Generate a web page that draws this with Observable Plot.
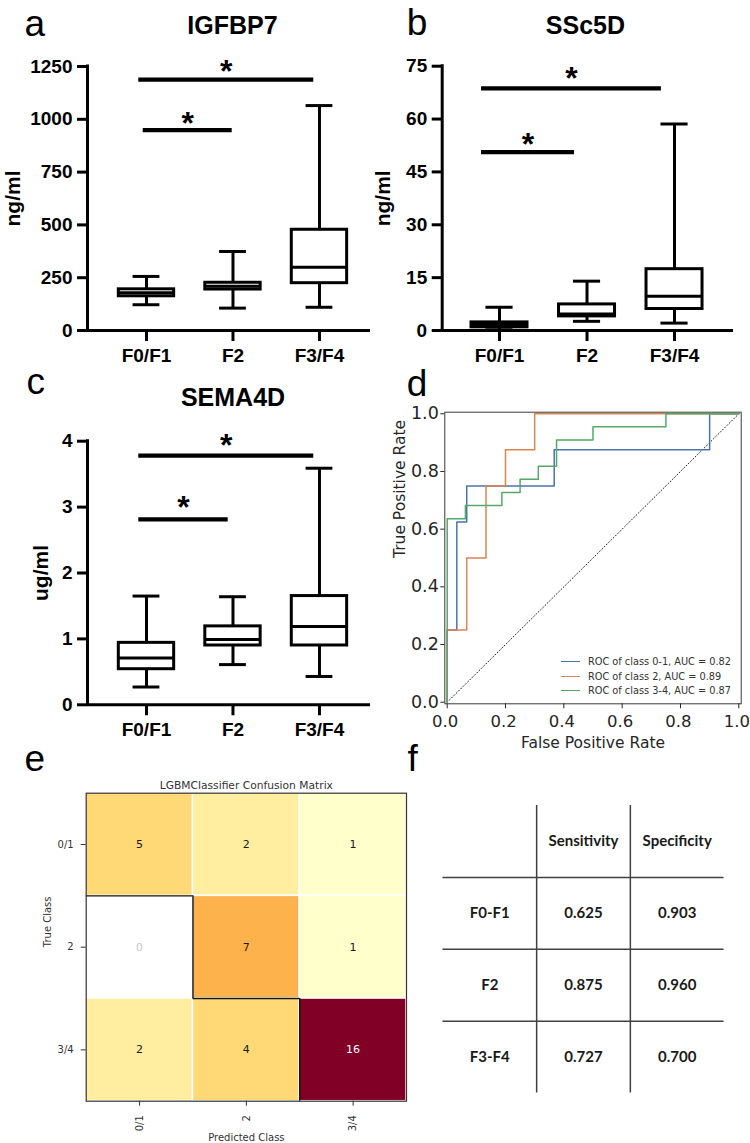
<!DOCTYPE html>
<html>
<head>
<meta charset="utf-8">
<script src="https://cdn.jsdelivr.net/npm/d3@7"></script>
<script src="https://cdn.jsdelivr.net/npm/@observablehq/plot@0.6"></script>
<style>
  html, body { margin: 0; padding: 0; background: #fff; }
  #page { position: relative; width: 750px; height: 1143px; overflow: hidden; background: #fff; }
  .panel { position: absolute; }
  .panel svg { background: none !important; overflow: visible; }
</style>
</head>
<body>
<div id="page"></div>
<script>
// ---------------- DATA ----------------
const groups = ["F0/F1", "F2", "F3/F4"];

// a – IGFBP7 (ng/ml): whisker low, Q1, median, Q3, whisker high
const igfbp7Low = [122, 106, 110];
const igfbp7Q1 = [162, 194, 224];
const igfbp7Median = [179, 210, 300];
const igfbp7Q3 = [195, 226, 477];
const igfbp7High = [256, 374, 1065];
const igfbp7Ticks = [0, 250, 500, 750, 1000, 1250];
// significance bars (x in group units, y in data units), star = star centre
const igfbp7Sig = [
  { from: 0.911, to: 2.934, y: 1188, star: 1256 },
  { from: 0.962, to: 1.991, y: 949, star: 1006 }
];

// b – SSc5D (ng/ml)
const ssc5dLow = [0.2, 2.6, 2.1];
const ssc5dQ1 = [0.9, 4.0, 6.1];
const ssc5dMedian = [1.7, 4.7, 9.7];
const ssc5dQ3 = [2.3, 7.4, 17.4];
const ssc5dHigh = [6.6, 14.0, 58.6];
const ssc5dTicks = [0, 15, 30, 45, 60, 75];
const ssc5dSig = [
  { from: 0.794, to: 2.85, y: 68.7, star: 73.2 },
  { from: 0.794, to: 1.857, y: 50.6, star: 54.4 }
];

// c – SEMA4D (ug/ml)
const sema4dLow = [0.27, 0.61, 0.43];
const sema4dQ1 = [0.54, 0.90, 0.90];
const sema4dMedian = [0.71, 0.99, 1.19];
const sema4dQ3 = [0.94, 1.19, 1.65];
const sema4dHigh = [1.65, 1.64, 3.59];
const sema4dTicks = [0, 1, 2, 3, 4];
const sema4dSig = [
  { from: 0.911, to: 2.934, y: 3.78, star: 4.03 },
  { from: 0.911, to: 1.945, y: 2.815, star: 3.085 }
];

// d – ROC curves
const rocLabels = ["ROC of class 0-1, AUC = 0.82", "ROC of class 2, AUC = 0.89", "ROC of class 3-4, AUC = 0.87"];
const rocFpr01 = [0, 0, 0.033, 0.033, 0.067, 0.067, 0.367, 0.367, 0.9, 0.9, 1];
const rocTpr01 = [0, 0.25, 0.25, 0.625, 0.625, 0.75, 0.75, 0.875, 0.875, 1, 1];
const rocFpr2 = [0, 0, 0.067, 0.067, 0.133, 0.133, 0.2, 0.2, 0.3, 0.3, 1];
const rocTpr2 = [0, 0.25, 0.25, 0.5, 0.5, 0.75, 0.75, 0.875, 0.875, 1, 1];
const rocFpr34 = [0, 0, 0.0625, 0.0625, 0.1875, 0.1875, 0.25, 0.25, 0.3125, 0.3125, 0.375, 0.375, 0.5, 0.5, 0.75, 0.75, 1];
const rocTpr34 = [0, 0.636, 0.636, 0.682, 0.682, 0.727, 0.727, 0.773, 0.773, 0.818, 0.818, 0.909, 0.909, 0.955, 0.955, 1, 1];
const chanceLine = [0, 1];
const rocTicks = [0, 0.2, 0.4, 0.6, 0.8, 1.0];

// e – confusion matrix
const classes = ["0/1", "2", "3/4"];
const confusion = [
  [5, 2, 1],
  [0, 7, 1],
  [2, 4, 16]
];

// f – table
const metricHeaders = ["Sensitivity", "Specificity"];
const stageLabels = ["F0-F1", "F2", "F3-F4"];
const sensitivity = [0.625, 0.875, 0.727];
const specificity = [0.903, 0.960, 0.700];

// ---------------- STYLE ----------------
const BOLD_FONT = "'Liberation Sans', Arial, sans-serif";
const MPL_FONT = "'DejaVu Sans', sans-serif";
const LETTER_FONT = "'Liberation Sans', Arial, sans-serif";
const TABLE_FONT = "Lato, sans-serif";
const rocColors = ["#4c72b0", "#dd8452", "#55a868"];
const page = document.getElementById("page");

function place(node, left, top) {
  const d = document.createElement("div");
  d.className = "panel";
  d.style.left = left + "px";
  d.style.top = top + "px";
  d.append(node);
  page.append(d);
}

function letterMark(letter, dx, dy) {
  return Plot.text([letter], {
    text: d => d, frameAnchor: "top-left", textAnchor: "start", lineAnchor: "bottom",
    dx, dy, fontSize: 37, fontFamily: LETTER_FONT, fontWeight: "normal", fill: "black"
  });
}

function boxPanel(cfg) {
  const rows = groups.map((g, i) => ({
    x: i + 1, low: cfg.low[i], q1: cfg.q1[i], med: cfg.med[i], q3: cfg.q3[i], high: cfg.high[i]
  }));
  const BOX = 0.32, CAP = 0.155, LW = 3;
  const yMax = cfg.ticks[cfg.ticks.length - 1];
  return Plot.plot({
    width: cfg.w, height: cfg.h,
    marginLeft: cfg.ml, marginRight: cfg.mr, marginTop: cfg.mt, marginBottom: cfg.mb,
    x: { type: "linear", domain: cfg.xDomain },
    y: { type: "linear", domain: [0, yMax] },
    style: { fontFamily: BOLD_FONT, background: "none", overflow: "visible", color: "#000" },
    marks: [
      Plot.ruleX(rows, { x: "x", y1: "q3", y2: "high", strokeWidth: LW }),
      Plot.ruleX(rows, { x: "x", y1: "low", y2: "q1", strokeWidth: LW }),
      Plot.ruleY(rows, { y: "high", x1: d => d.x - CAP, x2: d => d.x + CAP, strokeWidth: LW }),
      Plot.ruleY(rows, { y: "low", x1: d => d.x - CAP, x2: d => d.x + CAP, strokeWidth: LW }),
      Plot.rect(rows, { x1: d => d.x - BOX, x2: d => d.x + BOX, y1: "q1", y2: "q3", fill: "white", stroke: "black", strokeWidth: LW }),
      Plot.ruleY(rows, { y: "med", x1: d => d.x - BOX, x2: d => d.x + BOX, strokeWidth: LW }),
      Plot.ruleY(cfg.sig, { y: "y", x1: "from", x2: "to", strokeWidth: 4.3 }),
      Plot.text(cfg.sig, { x: d => (d.from + d.to) / 2, y: "star", text: () => "*", fontSize: 32, fontWeight: "bold", lineAnchor: "bottom", dy: 16.3, fill: "black" }),
      Plot.axisY({ ticks: cfg.ticks, tickFormat: t => `${t}`, tickSize: 10, tickPadding: 5, strokeWidth: LW, fontSize: 19, fontWeight: "bold", label: null }),
      Plot.axisX({ ticks: [1, 2, 3], tickFormat: t => groups[t - 1], tickSize: 11, tickPadding: 7, strokeWidth: LW, fontSize: 19, fontWeight: "bold", label: null }),
      Plot.ruleY([0], { strokeWidth: LW }),
      Plot.ruleX([cfg.xDomain[0]], { y1: 0, y2: yMax, strokeWidth: LW, strokeLinecap: "square" }),
      Plot.text([cfg.title], { text: d => d, frameAnchor: "top", lineAnchor: "bottom", dx: cfg.tdx, dy: cfg.tdy, fontSize: 25, fontWeight: "bold", fill: "black" }),
      Plot.text([cfg.unit], { text: d => d, frameAnchor: "left", rotate: -90, textAnchor: "middle", lineAnchor: "bottom", dx: cfg.udx, fontSize: 21, fontWeight: "bold", fill: "black" }),
      letterMark(cfg.letter, cfg.ldx, cfg.ldy)
    ]
  });
}

// a
place(boxPanel({
  letter: "a", title: "IGFBP7", unit: "ng/ml",
  low: igfbp7Low, q1: igfbp7Q1, med: igfbp7Median, q3: igfbp7Q3, high: igfbp7High,
  ticks: igfbp7Ticks, sig: igfbp7Sig,
  w: 375, h: 372, ml: 87, mr: 5, mt: 66, mb: 42, xDomain: [0.318, 3.59],
  tdx: 3.5, tdy: -33, udx: -68, ldx: -63, ldy: -31
}), 0, 0);

// b
place(boxPanel({
  letter: "b", title: "SSc5D", unit: "ng/ml",
  low: ssc5dLow, q1: ssc5dQ1, med: ssc5dMedian, q3: ssc5dQ3, high: ssc5dHigh,
  ticks: ssc5dTicks, sig: ssc5dSig,
  w: 375, h: 372, ml: 66.7, mr: 17, mt: 65.7, mb: 42, xDomain: [0.345, 3.674],
  tdx: -2.4, tdy: -32.4, udx: -52.2, ldx: -35.5, ldy: -30.7
}), 375, 0);

// c
place(boxPanel({
  letter: "c", title: "SEMA4D", unit: "ug/ml",
  low: sema4dLow, q1: sema4dQ1, med: sema4dMedian, q3: sema4dQ3, high: sema4dHigh,
  ticks: sema4dTicks, sig: sema4dSig,
  w: 375, h: 390, ml: 87, mr: 5, mt: 80.7, mb: 45.7, xDomain: [0.318, 3.59],
  tdx: 4, tdy: -35.7, udx: -39.7, ldx: -61, ldy: -47.7
}), 0, 360);

// d – ROC
const rocSeries = [
  { name: rocLabels[0], fpr: rocFpr01, tpr: rocTpr01 },
  { name: rocLabels[1], fpr: rocFpr2, tpr: rocTpr2 },
  { name: rocLabels[2], fpr: rocFpr34, tpr: rocTpr34 }
];
const rocPoints = rocSeries.flatMap(s => s.fpr.map((f, i) => ({ series: s.name, fpr: f, tpr: s.tpr[i] })));

place(Plot.plot({
  width: 375, height: 395,
  marginLeft: 69.3, marginRight: 9.3, marginTop: 51.7, marginBottom: 51.7,
  x: { domain: [-0.0082, 1.0082] },
  y: { domain: [-0.0055, 1.0055] },
  color: { domain: rocLabels, range: rocColors },
  style: { fontFamily: MPL_FONT, background: "none", overflow: "visible" },
  marks: [
    Plot.line(chanceLine, { x: d => d, y: d => d, stroke: "#222", strokeWidth: 1, strokeDasharray: "1,2.2" }),
    Plot.line(rocPoints, { x: "fpr", y: "tpr", z: "series", stroke: "series", strokeWidth: 1.5 }),
    Plot.frame({ stroke: "#3a3a3a", strokeWidth: 1 }),
    Plot.axisY({ ticks: rocTicks, tickFormat: ".1f", tickSize: 4, tickPadding: 2, fontSize: 17.5, color: "#262626", label: null }),
    Plot.axisX({ ticks: rocTicks, tickFormat: () => "", tickSize: 5, color: "#262626", label: null }),
    Plot.axisX({ ticks: rocTicks, tickFormat: ".1f", tickSize: 0, tickPadding: 11, dx: -2, fontSize: 16.5, color: "#262626", label: null }),
    Plot.text(["True Positive Rate"], { text: d => d, frameAnchor: "left", rotate: -90, lineAnchor: "bottom", dx: -40, fontSize: 15.5, fill: "#262626" }),
    Plot.text(["False Positive Rate"], { text: d => d, frameAnchor: "bottom", lineAnchor: "bottom", dy: 44.3, fontSize: 15.5, fill: "#262626" }),
    letterMark("d", -38, -16.7)
  ]
}), 375, 360);

// legend for d
(function () {
  const legend = document.createElement("div");
  legend.style.cssText = "position:absolute;left:561px;top:654.5px;font-family:'DejaVu Sans',sans-serif;font-size:9.75px;color:#333;";
  rocLabels.forEach((lab, i) => {
    const row = document.createElement("div");
    row.style.cssText = "display:flex;align-items:center;height:14.5px;white-space:nowrap;";
    const sw = document.createElement("span");
    sw.style.cssText = `display:inline-block;width:19px;height:0;border-top:1.5px solid ${rocColors[i]};margin-right:8px;`;
    row.append(sw, document.createTextNode(lab));
    legend.append(row);
  });
  page.append(legend);
})();

// e – confusion matrix
const cells = confusion.flatMap((row, r) => row.map((v, c) => ({ r, c, v })));
const vmax = d3.max(cells, d => d.v);
const diag = classes.map((_, k) => k);
const textSpec = { x: d => d.c + 0.5, y: d => d.r + 0.5, text: d => String(d.v), fontSize: 11, fontFamily: MPL_FONT };

place(Plot.plot({
  width: 420, height: 408,
  marginLeft: 85.7, marginRight: 14, marginTop: 57.7, marginBottom: 42.3,
  x: { domain: [0, classes.length] },
  y: { domain: [0, classes.length], reverse: true },
  color: { type: "threshold", domain: d3.range(1, 9).map(i => i * vmax / 9), scheme: "YlOrRd" },
  style: { fontFamily: MPL_FONT, background: "none", overflow: "visible" },
  marks: [
    Plot.rect(cells.filter(d => d.v > 0), { x1: "c", x2: d => d.c + 1, y1: "r", y2: d => d.r + 1, fill: "v", stroke: "white", strokeWidth: 1.5 }),
    Plot.ruleX(diag.filter(k => k > 0), { x: k => k, y1: k => k, y2: k => k + 1, stroke: "#111", strokeWidth: 1.4 }),
    Plot.ruleY(diag.filter(k => k < classes.length - 1), { y: k => k + 1, x1: k => k, x2: k => k + 1, stroke: "#111", strokeWidth: 1.4 }),
    Plot.frame({ stroke: "#333", strokeWidth: 1.2 }),
    Plot.text(cells.filter(d => d.v > 0 && d.v <= vmax / 2), { ...textSpec, fill: "#1a1a1a" }),
    Plot.text(cells.filter(d => d.v > vmax / 2), { ...textSpec, fill: "white" }),
    Plot.text(cells.filter(d => d.v === 0), { ...textSpec, fill: "#c8c8c8" }),
    Plot.axisY({ ticks: diag.map(k => k + 0.5), tickFormat: t => classes[Math.floor(t)], tickSize: 5, tickPadding: 7.5, fontSize: 10, color: "#333", label: null }),
    Plot.axisX({ ticks: diag.map(k => k + 0.5), tickFormat: t => classes[Math.floor(t)], tickRotate: -90, tickSize: 5, tickPadding: 9, fontSize: 10, color: "#333", label: null }),
    Plot.text(["LGBMClassifier Confusion Matrix"], { text: d => d, frameAnchor: "top", lineAnchor: "bottom", dy: -4.7, fontSize: 10.7, fill: "#333" }),
    Plot.text(["Predicted Class"], { text: d => d, frameAnchor: "bottom", lineAnchor: "bottom", dy: 39.7, fontSize: 10, fill: "#333" }),
    Plot.text(["True Class"], { text: d => d, frameAnchor: "left", rotate: -90, lineAnchor: "bottom", dx: -35.4, fontSize: 10, fill: "#333" }),
    letterMark("e", -61.7, -22.7)
  ]
}), 0, 735);

// f – table
const tableCells = [
  ...metricHeaders.map((h, i) => ({ col: i + 1, row: 0, text: h })),
  ...stageLabels.flatMap((s, i) => [
    { col: 0, row: i + 1, text: s },
    { col: 1, row: i + 1, text: sensitivity[i].toFixed(3) },
    { col: 2, row: i + 1, text: specificity[i].toFixed(3) }
  ])
];
const colBreaks = d3.range(1, metricHeaders.length + 1).map(k => k - 0.5);
const rowBreaks = d3.range(1, stageLabels.length + 1).map(k => k - 0.5);

place(Plot.plot({
  width: 350, height: 375,
  marginLeft: 42.45, marginRight: 26.45, marginTop: 70, marginBottom: 17.5,
  x: { domain: [-0.5, metricHeaders.length + 0.5], axis: null },
  y: { domain: [-0.5, stageLabels.length + 0.5], reverse: true, axis: null },
  style: { fontFamily: TABLE_FONT, background: "none", overflow: "visible" },
  marks: [
    Plot.ruleX(colBreaks, { stroke: "#404040", strokeWidth: 1.5 }),
    Plot.ruleY(rowBreaks, { stroke: "#404040", strokeWidth: 1.5 }),
    Plot.text(tableCells, { x: "col", y: "row", text: "text", fontSize: 15, fontWeight: "bold", fill: "#1a1a1a" }),
    letterMark("f", -35.5, -35)
  ]
}), 400, 735);
</script>
</body>
</html>
